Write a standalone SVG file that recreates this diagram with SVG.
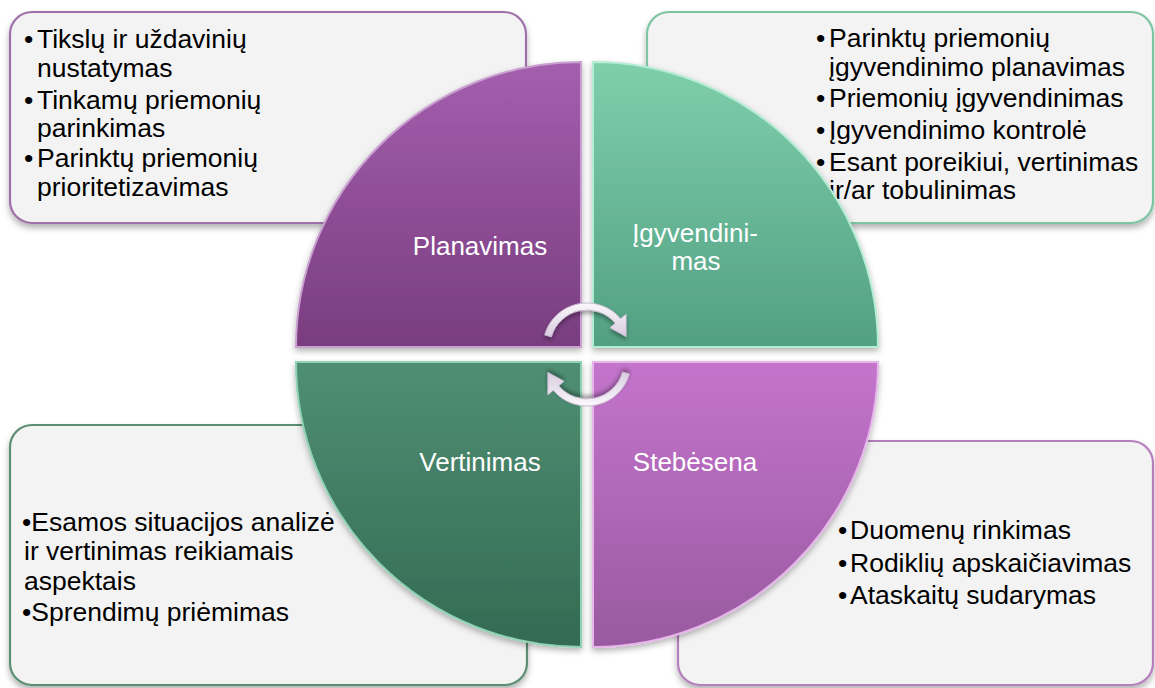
<svg xmlns="http://www.w3.org/2000/svg" width="1155" height="688" viewBox="0 0 1155 688">
  <defs>
    <style>
      .box { fill: #f3f3f3; stroke-width: 2.2; filter: url(#boxShadow); }
      .txt { font-family: "Liberation Sans", Arial, sans-serif; font-size: 26.5px; fill: #000; }
      .lbl { font-family: "Liberation Sans", Arial, sans-serif; font-size: 26px; fill: #fff; text-anchor: middle; }
      .quad { filter: url(#quadShadow); stroke-width: 2; }
      .arrow { fill: url(#arrowGrad); stroke: #c9bcd2; stroke-width: 1; filter: url(#arrowShadow); }
    </style>
    <filter id="boxShadow" x="-5%" y="-5%" width="110%" height="115%">
      <feDropShadow dx="0" dy="4" stdDeviation="3" flood-color="#000" flood-opacity="0.3"/>
    </filter>
    <filter id="quadShadow" x="-10%" y="-10%" width="120%" height="120%">
      <feDropShadow dx="0" dy="3" stdDeviation="3" flood-color="#000" flood-opacity="0.3"/>
    </filter>
    <filter id="arrowShadow" x="-20%" y="-20%" width="140%" height="140%">
      <feDropShadow dx="0" dy="3" stdDeviation="2" flood-color="#000" flood-opacity="0.35"/>
    </filter>
    <linearGradient id="gTL" x1="0" y1="0" x2="0" y2="1">
      <stop offset="0" stop-color="#a45fae"/>
      <stop offset="1" stop-color="#793d7f"/>
    </linearGradient>
    <linearGradient id="gTR" x1="0" y1="0" x2="0" y2="1">
      <stop offset="0" stop-color="#7fcfab"/>
      <stop offset="1" stop-color="#52a083"/>
    </linearGradient>
    <linearGradient id="gBL" x1="0" y1="0" x2="0" y2="1">
      <stop offset="0" stop-color="#4f8f73"/>
      <stop offset="1" stop-color="#336a53"/>
    </linearGradient>
    <linearGradient id="gBR" x1="0" y1="0" x2="0" y2="1">
      <stop offset="0" stop-color="#c474cc"/>
      <stop offset="1" stop-color="#995aa0"/>
    </linearGradient>
    <linearGradient id="arrowGrad" x1="0" y1="0" x2="0" y2="1">
      <stop offset="0" stop-color="#fbf8fc"/>
      <stop offset="1" stop-color="#d8cce0"/>
    </linearGradient>
  </defs>

  <!-- Text boxes -->
  <g id="box-planavimas">
    <rect class="box" x="10" y="12" width="516" height="211" rx="22" stroke="#a070aa"/>
    <text class="txt" y="48"><tspan x="24">•</tspan><tspan x="37">Tikslų ir uždavinių</tspan></text>
    <text class="txt" x="37" y="77">nustatymas</text>
    <text class="txt" y="109"><tspan x="24">•</tspan><tspan x="37">Tinkamų priemonių</tspan></text>
    <text class="txt" x="37" y="137">parinkimas</text>
    <text class="txt" y="167"><tspan x="24">•</tspan><tspan x="37">Parinktų priemonių</tspan></text>
    <text class="txt" x="37" y="196">prioritetizavimas</text>
  </g>
  <g id="box-igyvendinimas">
    <rect class="box" x="647" y="12" width="506" height="211" rx="22" stroke="#7cc4a2"/>
    <text class="txt" y="47"><tspan x="816">•</tspan><tspan x="829">Parinktų priemonių</tspan></text>
    <text class="txt" x="829" y="76">įgyvendinimo planavimas</text>
    <text class="txt" y="107"><tspan x="816">•</tspan><tspan x="829">Priemonių įgyvendinimas</tspan></text>
    <text class="txt" y="139"><tspan x="816">•</tspan><tspan x="829">Įgyvendinimo kontrolė</tspan></text>
    <text class="txt" y="171"><tspan x="816">•</tspan><tspan x="829">Esant poreikiui, vertinimas</tspan></text>
    <text class="txt" x="829" y="199">ir/ar tobulinimas</text>
  </g>
  <g id="box-vertinimas">
    <rect class="box" x="10" y="425" width="517" height="260" rx="22" stroke="#5c8e74"/>
    <text class="txt" x="22" y="531">•Esamos situacijos analizė</text>
    <text class="txt" x="24" y="560">ir vertinimas reikiamais</text>
    <text class="txt" x="24" y="590">aspektais</text>
    <text class="txt" x="22" y="621">•Sprendimų priėmimas</text>
  </g>
  <g id="box-stebesena">
    <rect class="box" x="678" y="441" width="475" height="244" rx="22" stroke="#b57fbd"/>
    <text class="txt" y="539"><tspan x="838">•</tspan><tspan x="850">Duomenų rinkimas</tspan></text>
    <text class="txt" y="572"><tspan x="838">•</tspan><tspan x="850">Rodiklių apskaičiavimas</tspan></text>
    <text class="txt" y="604"><tspan x="838">•</tspan><tspan x="850">Ataskaitų sudarymas</tspan></text>
  </g>

  <!-- Quadrants -->
  <g id="planavimas">
    <path class="quad" d="M581,347 L296,347 A285,285 0 0 1 581,62 Z" fill="url(#gTL)" stroke="#c9a0d0"/>
    <text class="lbl" x="480" y="255">Planavimas</text>
  </g>
  <g id="igyvendinimas">
    <path class="quad" d="M593,347 L593,62 A285,285 0 0 1 878,347 Z" fill="url(#gTR)" stroke="#b5ecd5"/>
    <text class="lbl" x="695" y="242">Įgyvendini-</text>
    <text class="lbl" x="696" y="270">mas</text>
  </g>
  <g id="vertinimas">
    <path class="quad" d="M581,362 L581,647 A285,285 0 0 1 296,362 Z" fill="url(#gBL)" stroke="#8fd2b4"/>
    <text class="lbl" x="480" y="471">Vertinimas</text>
  </g>
  <g id="stebesena">
    <path class="quad" d="M593,362 L878,362 A285,285 0 0 1 593,647 Z" fill="url(#gBR)" stroke="#e6b5ea"/>
    <text class="lbl" x="695" y="471">Stebėsena</text>
  </g>

  <!-- Cycle arrows -->
  <g id="connectors">
    <path class="arrow" d="M544.7,334.9 A44,44 0 0 1 620.7,318.7 L626.1,314.2 L626.1,336.5 L610,327.7 L615.3,323.2 A37,37 0 0 0 551.4,336.8 Z"/>
    <path class="arrow" transform="rotate(180 587 354.5)" d="M544.7,334.9 A44,44 0 0 1 620.7,318.7 L626.1,314.2 L626.1,336.5 L610,327.7 L615.3,323.2 A37,37 0 0 0 551.4,336.8 Z"/>
  </g>
</svg>
